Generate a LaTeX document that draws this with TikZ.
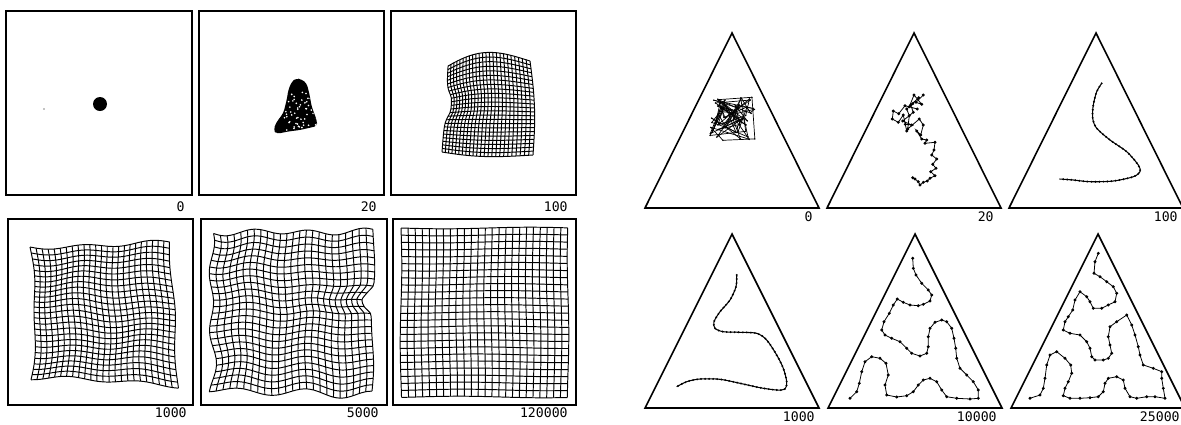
\documentclass[tikz,border=0pt]{standalone}
\usepackage{fontspec}
\newfontfamily\plotfont{DejaVu Sans Mono}

\tikzset{
  frame/.style={draw=black, line width=1.1pt},
  tri/.style={draw=black, line width=0.9pt, line join=miter},
  gridline/.style={line width=0.55pt},
  stamp/.style={font=\plotfont\fontsize{7.5}{8}\selectfont, inner sep=0pt, anchor=east},
  beads/.style={line width=0.6pt, postaction={draw, line width=1.25pt, line cap=round, dash pattern=on 0pt off 2.3pt}},
  walk/.style={line width=0.4pt},
  chain/.style={line width=0.45pt, mark=*, mark size=0.6pt},
}

% one distorted 25x25 net, from gx(u,v) and gy(u,v)
\newcommand\meshgrid{%
  \foreach \k in {0,...,24}{
    \draw[gridline] plot[variable=\t, domain=0:1, samples=25, smooth] ({gx(\k/24,\t)},{gy(\k/24,\t)});
    \draw[gridline] plot[variable=\t, domain=0:1, samples=25, smooth] ({gx(\t,\k/24)},{gy(\t,\k/24)});
  }}

\begin{document}
\begin{tikzpicture}[x=0.02cm, y=-0.02cm,
    declare function={bump(\x)=1/(1+min((\x)*(\x),100)*min((\x)*(\x),100));}]
\useasboundingbox (0,0) rectangle (1181,424);

% square frames and step numbers
\foreach \nm/\xa/\ya/\xb/\yb/\lx/\ly/\txt in {
    sa/6/11/192/195/185/207/0, sb/199/11/384/195/377/207/20, sc/391/11/576/195/568/207/100,
    sd/8/219/193/405/187/413/1000, se/201/219/387/405/379/413/5000, sf/393/219/576/405/568/413/120000}{
  \draw[frame] (\xa,\ya) rectangle (\xb,\yb);
  \node[stamp] (lab-\nm) at (\lx,\ly) {\txt};
}

% step 0
\fill (100,104) circle (7);
\fill (44,109) circle (0.7);

% step 20
\fill[rounded corners=2] (296,78.3) -- (301.7,79.3) -- (306.7,83.3) -- (309.3,93.3) -- (311.7,106.7)
  -- (316.7,120) -- (317.3,126) -- (311.7,127.3) -- (300,130) -- (286.7,131.7) -- (276.7,134)
  -- (273.3,130) -- (276.7,121.7) -- (283.3,113.3) -- (286.7,100) -- (288.3,90) -- (291.7,81.7) -- cycle;
\begin{scope}
  \clip (296,78.3) -- (306.7,83.3) -- (311.7,106.7) -- (317.3,126) -- (276.7,134) -- (283.3,113.3) -- cycle;
  \pgfmathsetseed{5}
  \foreach \n in {1,...,55}{
    \pgfmathsetmacro\sx{284+32*rnd}
    \pgfmathsetmacro\sy{92+38*rnd}
    \fill[white] (\sx,\sy) circle (0.9);
  }
\end{scope}

% step 100
\begin{scope}[declare function={
    gx(\p,\q)=(1-\q)*(448+82*(\p*(0.85+0.15*\p)))+\q*(442+91*(\p*(0.85+0.15*\p)))
      +6*bump((\q-0.45)/0.15)*(1-\p)*(1-\p)+3*sin(180*\q)*\p;
    gy(\p,\q)=(1-\p)*(66+86*\q)+\p*(61+94*\q)-11*sin(180*\p)*(1-\q)*(1-\q)+3*sin(180*\p)*\q*\q;}]
  \meshgrid
\end{scope}

% step 1000
\begin{scope}[declare function={
    gx(\p,\q)=(1-\q)*(30+140*\p)+\q*(31+147*\p)+5*sin(180*\q)*(1-\p)*(1-\p)*(1-\p)+1.5*sin(540*\q+200*\p);
    gy(\p,\q)=(1-\p)*(247+130*\q)+\p*(243+142*\q)+2*sin(720*\p+90*\q)+1.2*sin(500*\q+300*\p);}]
  \meshgrid
\end{scope}

% step 5000
\begin{scope}[declare function={
    gx(\p,\q)=(1-\q)*(211+163*\p)+\q*(213+159*\p)+3*sin(900*\q+60)*(1-\p)*(1-\p)*(1-\p)
      -11*\p*\p*\p*bump((\q-0.42)/0.05)+1.3*sin(600*\q+300*\p);
    gy(\p,\q)=(1-\p)*(232+158*\q)+\p*(232+163*\q)+3*sin(1000*\p+30)*(1-\q)*(1-\q)+3*sin(900*\p+100)*\q*\q
      +1.2*sin(700*\p+250*\q);}]
  \meshgrid
\end{scope}

% step 120000
\begin{scope}[declare function={
    gx(\p,\q)=401+167*\p+0.8*sin(400*\q+200*\p);
    gy(\p,\q)=228+169*\q+0.8*sin(350*\p+150*\q);}]
  \meshgrid
\end{scope}

% triangles and step numbers
\foreach \nm/\ax/\ay/\by/\lx/\ly/\txt in {
    ta/732/33/208/813/217/0, tb/914/33/208/994/217/20, tc/1096/33/208/1178/217/100,
    td/732/234/408/815/416.5/1000, te/915/234/408/997/416.5/10000, tf/1098/234/408/1180/416.5/25000}{
  \coordinate (\nm-top) at (\ax,\ay);
  \coordinate (\nm-left) at (\ax-87,\by);
  \coordinate (\nm-right) at (\ax+87,\by);
  \draw[tri] (\nm-top) -- (\nm-left) -- (\nm-right) -- cycle;
  \node[stamp] (lab-\nm) at (\lx,\ly) {\txt};
}

% chain at step 0
\pgfmathsetseed{11}
\coordinate (w0) at (733,119);
\foreach \n [remember=\n as \m (initially 0)] in {1,...,70}{
  \pgfmathsetmacro\rx{733+23*(2*rnd-1)}
  \pgfmathsetmacro\ry{119+22*(2*rnd-1)}
  \coordinate (w\n) at (\rx,\ry);
  \draw[walk] (w\m) -- (w\n);
  \fill (w\n) circle (0.8);
}

% chain at step 20
\draw[chain] plot coordinates {(923.3,95) (916,102.3) (921.7,104.3) (914,95) (909.3,106.7) (917.3,109)
  (905,105.7) (898.7,113.7) (893.3,111) (892.3,119) (898.3,122.3) (903.3,115) (906.7,131) (905.3,124.3)
  (911.7,125) (902.7,121) (913.3,112.3) (910.7,105) (918.7,97.7) (912.7,103.7) (906.7,109) (909.3,115.7)
  (907.7,129) (919.3,119) (923.3,125) (920.7,135) (916.7,131) (921.7,139) (926.7,140) (925,143.3)
  (935,142.3) (934,150) (931.7,155) (936.7,159) (932.7,164.3) (936,168.3) (930.7,171.7) (935,175.7)
  (930,178.3) (927.3,181) (923.3,182.3) (920,185) (918.3,181.7) (915,179) (912.7,177.7)};

% chain at step 100
\draw[beads] plot[smooth] coordinates {(1101.7,83.3) (1096.7,91.7) (1093.3,105) (1092.7,118.3)
  (1096.7,128.3) (1110,140) (1126.7,151.7) (1138.3,165) (1140,171.7) (1133.3,176.7) (1113.3,181)
  (1090,181.7) (1073.3,180) (1059.3,179)};

% chain at step 1000
\draw[beads] plot[smooth] coordinates {(736.7,275) (736,286.7) (730,300) (720,311.7) (714,321.7)
  (715,328.3) (723.3,331.7) (740,332.3) (756.7,333.3) (766.7,340) (776.7,355) (783.3,368.3)
  (786.7,381.7) (785,389) (776.7,390) (760,387.7) (740,383.3) (720,379.3) (700,379) (686.7,381.7)
  (676.7,386.7)};

% chain at step 10000
\draw[chain] plot coordinates {(912.7,258.3) (913.3,268.3) (916,275) (921.7,283.3) (928.3,290)
  (931.7,295) (930,301) (923.3,304.3) (918.3,305.7) (910,305) (903.3,302.3) (897.3,299) (893.3,305)
  (889.3,313.3) (884,321.7) (881.7,330) (885,335) (891.7,338.3) (900,341.7) (906.7,348.3) (911.7,353.3)
  (920,356) (926.7,353.3) (928.3,346.7) (928.3,336.7) (930,328.3) (935,322.3) (941.7,320) (946.7,321.7)
  (951.7,328.3) (954,338.3) (955.7,348.3) (956.7,358.3) (960,368.3) (966.7,375) (973.3,381.7)
  (978.3,390) (978.3,398.3) (970,399) (956.7,398.3) (946.7,396.7) (941.7,390) (936.7,381.7) (930,378.3)
  (923.3,380) (918.3,385) (913.3,391.7) (906.7,395.7) (896.7,397) (886.7,395) (885,385) (888.3,375)
  (886,363.3) (880,358.3) (871.7,356.7) (865,361.7) (861.7,371.7) (859.3,383.3) (856.7,391.7) (850,398.3)};

% chain at step 25000
\draw[chain] plot coordinates {(1098.3,253.3) (1095,261.7) (1094,273.3) (1100,276.7) (1106.7,281.7)
  (1113.3,286.7) (1116.7,293.3) (1115,301.7) (1108.3,305) (1101.7,308.3) (1093.3,308.3) (1090,301.7)
  (1086.7,296.7) (1080,291.7) (1075,300) (1072.7,310) (1068.3,316.7) (1065,321.7) (1063.3,330)
  (1070,333.3) (1080,335) (1086.7,341.7) (1090,348.3) (1091.7,356.7) (1095,360) (1103.3,360)
  (1108.3,358.3) (1111.7,353.3) (1110,345) (1108.3,336.7) (1110,326.7) (1116.7,321.7) (1126.7,315)
  (1131.7,325) (1135,335) (1138.3,346.7) (1140,355) (1143.3,365) (1153.3,368.3) (1161.7,371.7)
  (1161.7,378.3) (1163.3,388.3) (1165,398.3) (1155,396.7) (1146.7,396.7) (1136.7,398.3) (1130,396.7)
  (1125,388.3) (1123.3,380) (1116.7,376.7) (1108.3,378.3) (1105,383.3) (1103.3,391.7) (1098.3,396.7)
  (1090,397.7) (1080,398.3) (1070,398.3) (1063.3,395.7) (1065,388.3) (1068.3,381.7) (1071.7,373.3)
  (1070.7,365) (1065,358.3) (1056.7,351.7) (1050,355) (1046.7,365) (1045,378.3) (1043.3,388.3)
  (1040,395) (1030,398.3)};

\end{tikzpicture}
\end{document}
